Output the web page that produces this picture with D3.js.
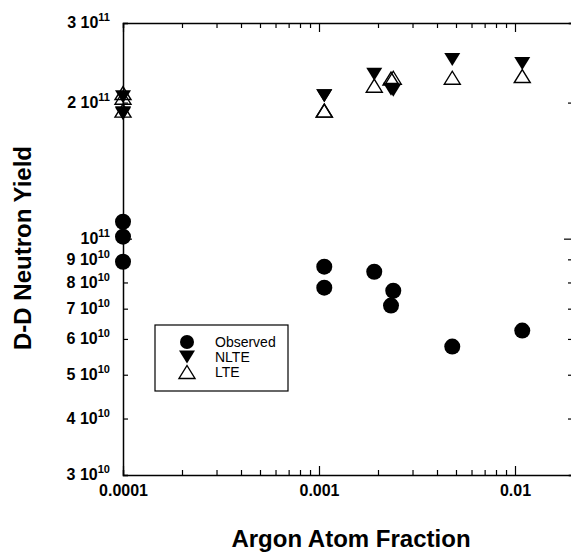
<!DOCTYPE html>
<html>
<head>
<meta charset="utf-8">
<script src="https://cdn.jsdelivr.net/npm/d3@7"></script>
<style>
  body { margin: 0; background: #fff; }
  svg { display: block; }
  text { font-family: Arial, "Liberation Sans", Helvetica, sans-serif; fill: #000; }
</style>
</head>
<body>
<svg id="chart" width="571" height="554"></svg>
<script>
// Argon atom fraction of each shot
const argonFraction = [0.0001, 0.0001, 0.0001, 0.001064, 0.001064, 0.001914, 0.002393, 0.00233, 0.004786, 0.01089];
// Measured D-D neutron yield
const observedYield = [1.09e11, 1.01e11, 8.89e10, 8.67e10, 7.79e10, 8.45e10, 7.67e10, 7.11e10, 5.77e10, 6.26e10];
// Simulated yields, non-LTE and LTE argon opacity
const nlteYield = [2.06e11, 1.89e11, 1.90e11, 2.07e11, 2.07e11, 2.31e11, 2.13e11, 2.14e11, 2.49e11, 2.44e11];
const lteYield  = [2.10e11, 1.92e11, 2.05e11, 1.92e11, 1.92e11, 2.18e11, 2.27e11, 2.26e11, 2.27e11, 2.29e11];

const xTickValues = [1e-4,2e-4,3e-4,4e-4,5e-4,6e-4,7e-4,8e-4,9e-4,
                     1e-3,2e-3,3e-3,4e-3,5e-3,6e-3,7e-3,8e-3,9e-3,1e-2,2e-2];
const xTickLabels = {"0.0001": "0.0001", "0.001": "0.001", "0.01": "0.01"};
const yTickValues = [3e10,4e10,5e10,6e10,7e10,8e10,9e10,1e11,2e11,3e11];
const legendNames = ["Observed", "NLTE", "LTE"];

const svg = d3.select("#chart");
const x = d3.scaleLog().domain([1e-4, 2e-2]).range([123, 574]);
const y = d3.scaleLog().domain([3e10, 3e11]).range([475, 23]);

const isDecade = v => Math.abs(Math.log10(v) - Math.round(Math.log10(v))) < 1e-9;

function styleAxis(g) {
  g.select(".domain").attr("stroke", "#000").attr("stroke-width", 1.5);
  g.selectAll(".tick line").attr("stroke", "#000").attr("stroke-width", 1.2);
}

// Bottom axis: inward ticks, labels at the decades
const gx = svg.append("g").attr("transform", `translate(0,${y.range()[0]})`)
  .call(d3.axisBottom(x).tickValues(xTickValues).tickSizeOuter(0).tickSize(-5).tickPadding(10)
    .tickFormat(v => { const k = String(+v.toPrecision(1)); return xTickLabels[k] || ""; }));
gx.selectAll(".tick line").attr("y2", d => isDecade(d) ? -9 : -5);
gx.selectAll(".tick text").attr("font-size", 16).attr("font-weight", "bold");
styleAxis(gx);

// Top axis: ticks only
const gt = svg.append("g").attr("transform", `translate(0,${y.range()[1]})`)
  .call(d3.axisTop(x).tickValues(xTickValues).tickSizeOuter(0).tickSize(-5).tickFormat(""));
gt.selectAll(".tick line").attr("y2", d => isDecade(d) ? 9 : 5);
styleAxis(gt);

// Left axis with "m 10^e" labels
const gy = svg.append("g").attr("transform", `translate(${x.range()[0]},0)`)
  .call(d3.axisLeft(y).tickValues(yTickValues).tickSizeOuter(0).tickSize(-5).tickPadding(13).tickFormat(""));
gy.selectAll(".tick line").attr("x2", d => isDecade(d) ? 9 : 5);
gy.selectAll(".tick text").each(function(d) {
  const e = Math.floor(Math.log10(d) + 1e-9);
  const m = Math.round(d / Math.pow(10, e));
  const t = d3.select(this).attr("font-size", 16).attr("font-weight", "bold").attr("dy", "0.3em");
  t.append("tspan").text(m === 1 ? "10" : m + " 10");
  t.append("tspan").attr("font-size", 11).attr("dy", -7).text(e);
});
styleAxis(gy);

// Right axis: ticks only
const gr = svg.append("g").attr("transform", `translate(${x.range()[1]},0)`)
  .call(d3.axisLeft(y).tickValues(yTickValues).tickSizeOuter(0).tickSize(5).tickFormat(""));
gr.selectAll(".tick line").attr("x2", d => isDecade(d) ? -10 : -6);
styleAxis(gr);

// Marker shapes
const R = 8;
const downTri = "M-8,-6.5L8,-6.5L0,6.5Z";
const upTri = "M-8,6.5L8,6.5L0,-6.5Z";

const plot = svg.append("g");
plot.selectAll("circle.obs").data(argonFraction).join("circle")
  .attr("class", "obs")
  .attr("cx", d => x(d)).attr("cy", (d, i) => y(observedYield[i])).attr("r", R)
  .attr("fill", "#000");
plot.selectAll("path.nlte").data(argonFraction).join("path")
  .attr("class", "nlte")
  .attr("transform", (d, i) => `translate(${x(d)},${y(nlteYield[i])})`)
  .attr("d", downTri).attr("fill", "#000");
plot.selectAll("path.lte").data(argonFraction).join("path")
  .attr("class", "lte")
  .attr("transform", (d, i) => `translate(${x(d)},${y(lteYield[i])})`)
  .attr("d", upTri).attr("fill", "none").attr("stroke", "#000").attr("stroke-width", 1.4);

// Legend
const lg = svg.append("g");
lg.append("rect").attr("x", 155).attr("y", 325).attr("width", 133).attr("height", 66)
  .attr("fill", "#fff").attr("stroke", "#000").attr("stroke-width", 1.2);
legendNames.forEach((name, i) => {
  const cy = 342 + i * 15, cx = 187;
  if (i === 0) lg.append("circle").attr("cx", cx).attr("cy", cy).attr("r", 7).attr("fill", "#000");
  else if (i === 1) lg.append("path").attr("transform", `translate(${cx},${cy})`).attr("d", downTri).attr("fill", "#000");
  else lg.append("path").attr("transform", `translate(${cx},${cy})`).attr("d", upTri)
    .attr("fill", "none").attr("stroke", "#000").attr("stroke-width", 1.4);
  lg.append("text").attr("x", 215).attr("y", cy).attr("dy", "0.36em").attr("font-size", 14).text(name);
});

// Axis titles
svg.append("text").attr("x", 351).attr("y", 547).attr("text-anchor", "middle")
  .attr("font-size", 24).attr("font-weight", "bold").text("Argon Atom Fraction");
svg.append("text").attr("transform", "translate(31,248) rotate(-90)").attr("text-anchor", "middle")
  .attr("font-size", 24).attr("font-weight", "bold").text("D-D Neutron Yield");
</script>
</body>
</html>
